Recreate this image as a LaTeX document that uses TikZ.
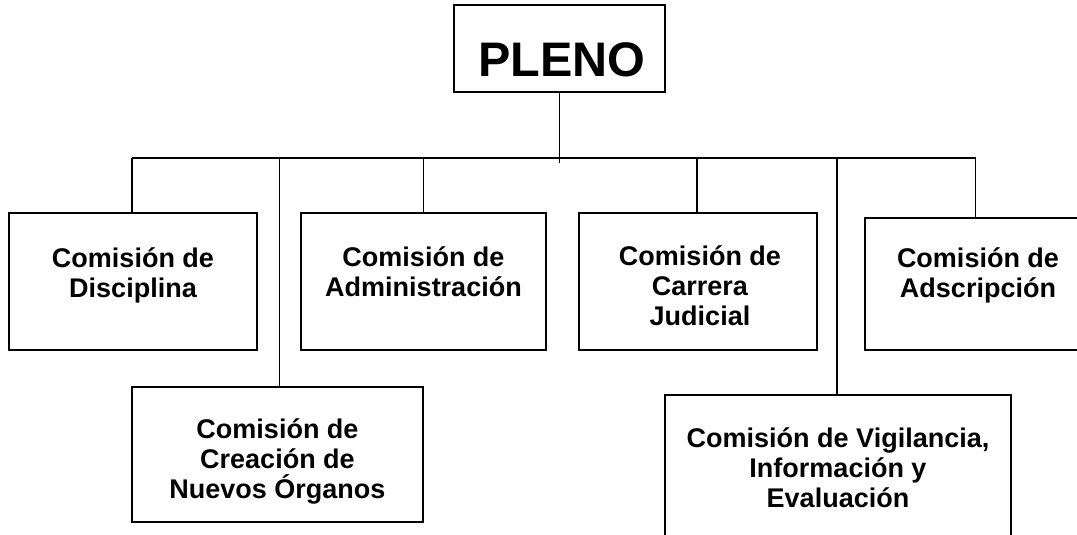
\documentclass[tikz,border=0pt]{standalone}
\usepackage{fontspec}
\setmainfont{Liberation Sans}
\begin{document}
\begin{tikzpicture}[x=1pt,y=-1pt,
  box/.style={draw=black, line width=1.8pt, inner sep=0pt, outer sep=0pt},
  txt/.style={font=\fontsize{27}{30}\selectfont\bfseries, align=center, anchor=base, inner sep=0pt},
  conn/.style={draw=black, line width=1.9pt}]
\useasboundingbox (0,0) rectangle (1077,535);
\fill[white] (0,0) rectangle (1077,535);
\clip (0,0) rectangle (1077,535);
% PLENO
\node[box, minimum width=211pt, minimum height=87pt] (pleno) at (559.5,48.5) {};
\node[font=\fontsize{48.5}{52}\selectfont\bfseries, anchor=base, inner sep=0pt] (plenoT) at (562,77) {PLENO};
% boxes
\node[box, minimum width=248pt, minimum height=137pt] (dis) at (133,281.5) {};
\node[box, minimum width=245pt, minimum height=137pt] (adm) at (423.5,281.5) {};
\node[box, minimum width=238pt, minimum height=137pt] (car) at (698,281.5) {};
\node[box, minimum width=227pt, minimum height=132pt] (ads) at (978.5,284) {};
\node[box, minimum width=291pt, minimum height=135pt] (nue) at (277.5,454.5) {};
\node[box, minimum width=346pt, minimum height=170pt] (vig) at (838,480) {};
% texts (base anchor = baseline of the last line)
\node[txt] (disT) at ([yshift=-84pt]dis.north) {Comisión de\\Disciplina};
\node[txt] (admT) at ([yshift=-83pt]adm.north) {Comisión de\\Administración};
\node[txt] (carT) at ([yshift=-112pt,xshift=2pt]car.north) {Comisión de\\Carrera\\Judicial};
\node[txt] (adsT) at ([yshift=-79pt,xshift=-0.5pt]ads.north) {Comisión de\\Adscripción};
\node[txt] (nueT) at ([yshift=-111pt]nue.north) {Comisión de\\Creación de\\Nuevos Órganos};
\node[txt] (vigT) at ([yshift=-112pt]vig.north) {Comisión de Vigilancia,\\Información y\\Evaluación};
% connectors
\coordinate (hl) at (132,158);
\coordinate (hr) at (975.5,158);
\coordinate (tick) at (0,163);
\draw[conn] (hl) -- (hr);
\draw[conn] (pleno.south) -- (pleno.south |- tick);
\draw[conn] (hl) -- (hl |- dis.north);
\draw[conn] (279.5,158) coordinate (nueTop) -- (nueTop |- nue.north);
\draw[conn] (adm.north |- hl) -- (adm.north);
\draw[conn] (697,158) coordinate (carTop) -- (carTop |- car.north);
\draw[conn] (837,158) coordinate (vigTop) -- (vigTop |- vig.north);
\draw[conn] (hr) -- (hr |- ads.north);
\end{tikzpicture}
\end{document}
